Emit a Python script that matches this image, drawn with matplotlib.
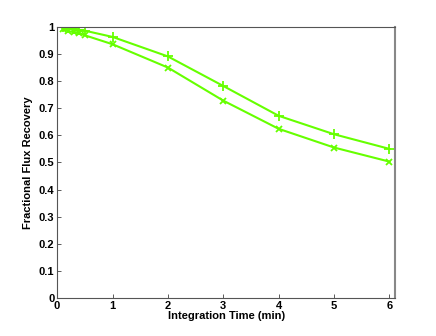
import matplotlib
matplotlib.use('Agg')
import matplotlib.pyplot as plt

# integration times (min)
t = [0.1, 0.2, 0.3, 0.4, 0.5, 1, 2, 3, 4, 5, 6]
# fractional flux recovery, two cases
rec_plus = [0.999, 0.996, 0.993, 0.989, 0.986, 0.963, 0.891, 0.782, 0.672, 0.604, 0.550]
rec_cross = [0.991, 0.985, 0.980, 0.977, 0.969, 0.936, 0.850, 0.728, 0.624, 0.555, 0.503]

plt.rcParams['font.family'] = ['Liberation Sans', 'DejaVu Sans']
plt.rcParams['font.weight'] = 'bold'

fig = plt.figure(figsize=(4.36, 3.36), dpi=100)
ax = fig.add_axes([0.131, 0.113, 0.775, 0.807])

col = '#66ff00'
ax.plot(t, rec_plus, '-+', color=col, lw=1.5, ms=7, mew=1.3)
ax.plot(t, rec_cross, '-x', color=col, lw=1.5, ms=5, mew=1.3)

ax.set_xlim(0, 6.1)
ax.set_ylim(0, 1)
ax.set_xticks(range(0, 7))
ax.set_yticks([i / 10 for i in range(11)])
ax.set_yticklabels(['0', '0.1', '0.2', '0.3', '0.4', '0.5', '0.6', '0.7', '0.8', '0.9', '1'])
ax.tick_params(direction='in', length=3, labelsize=8, width=0.6, pad=2, colors='#404040', labelcolor='black')
for s in ax.spines.values():
    s.set_color('#555555')
    s.set_linewidth(0.8)
ax.spines['right'].set_color('#888888')
ax.spines['right'].set_linewidth(1.5)

ax.set_xlabel('Integration Time (min)', fontsize=8, fontweight='bold', labelpad=0)
ax.set_ylabel('Fractional Flux Recovery', fontsize=8, fontweight='bold', labelpad=4)

fig.savefig('out.png', dpi=100)
